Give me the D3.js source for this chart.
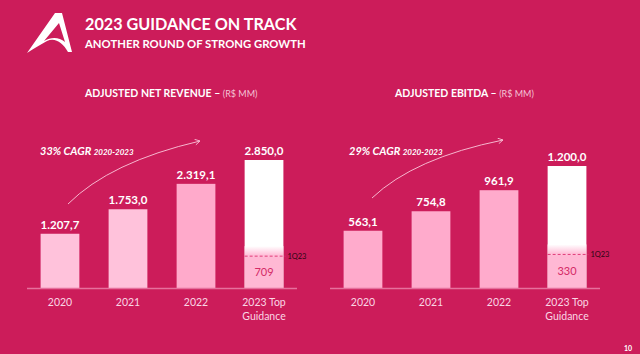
<!DOCTYPE html>
<html>
<head>
<meta charset="utf-8">
<script src="https://cdn.jsdelivr.net/npm/d3@7"></script>
<style>
  html, body { margin: 0; padding: 0; background: #cc1c5a; }
  svg { display: block; font-family: Lato, "Open Sans", sans-serif; }
</style>
</head>
<body>
<svg id="slide" width="640" height="354"></svg>
<script>
// chart data
const years = ["2020", "2021", "2022", "2023 Top Guidance"];
const revenue = [1207.7, 1753.0, 2319.1, 2850.0];
const ebitda = [563.1, 754.8, 961.9, 1200.0];
const revenue1Q23 = 709;
const ebitda1Q23 = 330;
const cagr = ["33%", "29%"];

const W = 640, H = 354;
const bg = "#cc1c5a";
const br = d3.formatLocale({ decimal: ",", thousands: ".", grouping: [3], currency: ["R$", ""] });
const fmt = br.format(",.1f");

const svg = d3.select("#slide");
svg.append("rect").attr("width", W).attr("height", H).attr("fill", bg);

const defs = svg.append("defs");
const grad = defs.append("linearGradient")
    .attr("id", "fade").attr("x1", 0).attr("y1", 0).attr("x2", 0).attr("y2", 1);
grad.append("stop").attr("offset", "0%").attr("stop-color", "#ffffff");
grad.append("stop").attr("offset", "100%").attr("stop-color", "#ffb8d4");

const marker = defs.append("marker")
    .attr("id", "arrow").attr("viewBox", "0 0 10 10")
    .attr("refX", 8).attr("refY", 5)
    .attr("markerWidth", 7).attr("markerHeight", 7)
    .attr("orient", "auto-start-reverse");
marker.append("path").attr("d", "M1,1 L8,5 L1,9")
    .attr("fill", "none").attr("stroke", "#f6b6ce").attr("stroke-width", 1.3);

// logo
svg.append("path")
    .attr("d", "M55,13 L62,13 L72,52 L68,52 C63,43 55,37 47,41 C40,45 33,49 27,53 Z M59,23 L44,41 C51,37 59,37 65,42 Z")
    .attr("fill", "#fff").attr("fill-rule", "evenodd");

// header
svg.append("text").attr("x", 85).attr("y", 30)
    .attr("fill", "#fff").attr("font-weight", 700).attr("font-size", 16.2)
    .text("2023 GUIDANCE ON TRACK");
svg.append("text").attr("x", 85).attr("y", 48)
    .attr("fill", "#fff").attr("font-weight", 700).attr("font-size", 11.3)
    .text("ANOTHER ROUND OF STRONG GROWTH");

svg.append("text").attr("x", 628).attr("y", 351)
    .attr("text-anchor", "middle")
    .attr("fill", "#fff").attr("font-weight", 700).attr("font-size", 7)
    .text("10");

function drawChart(opts) {
  const { x0, values, q1, title, titleX, cagrLabel, colors, arrowPts } = opts;
  const g = svg.append("g");
  const base = 288;

  const x = d3.scaleBand().domain(years)
      .range([x0, x0 + 270]).paddingInner(0.43).paddingOuter(0.2);
  const y = d3.scaleLinear().domain([0, d3.max(values)]).range([base, opts.topY]);

  // title
  const t = g.append("text").attr("x", titleX).attr("y", 97);
  t.append("tspan").attr("fill", "#fff").attr("font-weight", 700).attr("font-size", 10.5)
      .text(title + " – ");
  t.append("tspan").attr("fill", "#f4c3d6").attr("font-size", 9).text("(R$ MM)");

  // bars
  const last = years.length - 1;
  g.selectAll(".bar").data(values).enter().append("rect")
      .attr("x", (d, i) => x(years[i]))
      .attr("y", d => y(d))
      .attr("width", x.bandwidth())
      .attr("height", d => base - y(d))
      .attr("fill", (d, i) => colors[i]);

  // 1Q23 portion of the guidance bar
  const bx = x(years[last]), bw = x.bandwidth();
  g.append("rect").attr("x", bx).attr("y", y(q1)).attr("width", bw)
      .attr("height", base - y(q1)).attr("fill", "#ffb8d4");
  g.append("rect").attr("x", bx).attr("y", y(q1) - 10).attr("width", bw)
      .attr("height", 10).attr("fill", "url(#fade)");
  g.append("line").attr("x1", bx).attr("x2", bx + bw + 2)
      .attr("y1", y(q1)).attr("y2", y(q1))
      .attr("stroke", "#e23c7a").attr("stroke-width", 1).attr("stroke-dasharray", "3,2");
  g.append("text").attr("x", bx + bw + 4).attr("y", y(q1) + 2.5)
      .attr("fill", "#2a0612").attr("font-size", 7.5).text("1Q23");
  g.append("text").attr("x", bx + bw / 2).attr("y", (y(q1) + base) / 2 + 4)
      .attr("text-anchor", "middle").attr("fill", "#d42a66").attr("font-size", 11)
      .text(d3.format("d")(q1));

  // value labels
  g.selectAll(".val").data(values).enter().append("text")
      .attr("x", (d, i) => x(years[i]) + bw / 2)
      .attr("y", d => y(d) - 5)
      .attr("text-anchor", "middle")
      .attr("fill", "#fff").attr("font-weight", 700).attr("font-size", 11.5)
      .text(d => fmt(d));

  // baseline
  g.append("line").attr("x1", x0).attr("x2", x0 + 270)
      .attr("y1", base + 0.5).attr("y2", base + 0.5)
      .attr("stroke", "#e6709d").attr("stroke-width", 1.5);

  // category labels
  const cat = g.selectAll(".cat").data(years).enter().append("text")
      .attr("x", d => x(d) + bw / 2)
      .attr("y", 306)
      .attr("text-anchor", "middle")
      .attr("fill", "#fad6e4").attr("font-size", 10.5);
  cat.each(function (d) {
    const el = d3.select(this);
    const parts = d === years[last] ? ["2023 Top", "Guidance"] : [d];
    parts.forEach((p, k) => el.append("tspan").attr("x", x(d) + bw / 2)
        .attr("dy", k === 0 ? 0 : 13.5).text(p));
  });

  // CAGR note
  const c = g.append("text").attr("x", opts.cagrX).attr("y", 155)
      .attr("fill", "#fff").attr("font-weight", 700).attr("font-style", "italic");
  c.append("tspan").attr("font-size", 11).text(cagrLabel + " CAGR ");
  c.append("tspan").attr("font-size", 8).text("2020-2023");

  const [p0, pc, p1] = arrowPts;
  g.append("path")
      .attr("d", `M${p0[0]},${p0[1]} Q${pc[0]},${pc[1]} ${p1[0]},${p1[1]}`)
      .attr("fill", "none").attr("stroke", "#f6b6ce").attr("stroke-width", 1)
      .attr("marker-end", "url(#arrow)");
}

drawChart({
  x0: 27, values: revenue, q1: revenue1Q23, topY: 160,
  title: "ADJUSTED NET REVENUE", titleX: 85, cagrLabel: cagr[0], cagrX: 40,
  colors: ["#ffc2db", "#ffc2db", "#ffaacb", "#ffffff"],
  arrowPts: [[68, 204], [110, 162], [200, 141]]
});
drawChart({
  x0: 330, values: ebitda, q1: ebitda1Q23, topY: 166,
  title: "ADJUSTED EBITDA", titleX: 395, cagrLabel: cagr[1], cagrX: 349,
  colors: ["#ffabcc", "#ffabcc", "#ffabcc", "#ffffff"],
  arrowPts: [[372, 198], [414, 158], [503, 140]]
});
</script>
</body>
</html>
